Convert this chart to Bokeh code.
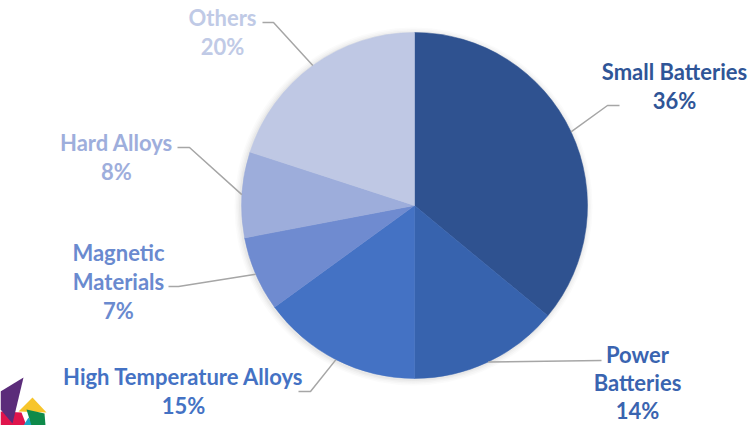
import numpy as np
from bokeh.plotting import figure
from bokeh.models import Range1d, ColumnDataSource
from bokeh.embed import file_html
from bokeh.resources import INLINE
from bokeh.core.properties import value

# ---------------- data ----------------
categories = ["Small Batteries", "Power Batteries", "High Temperature Alloys",
              "Magnetic Materials", "Hard Alloys", "Others"]
shares = [36, 14, 15, 7, 8, 20]
label_names = [["Small Batteries"], ["Power", "Batteries"], ["High Temperature Alloys"],
               ["Magnetic", "Materials"], ["Hard Alloys"], ["Others"]]

# ---------------- style / layout ----------------
slice_colors = ["#2F5290", "#3763AE", "#4472C4", "#6F8BD0", "#9DADDB", "#BFC8E4"]
text_colors = ["#2F5597", "#3A64B0", "#4472C4", "#6A8ACF", "#9EAEDC", "#C0CAE6"]
W, H = 756, 425

def X(px):
    return px

def Y(py):
    return H - py

CX, CY, R = 414, 205, 173
# label centre x, first-line y, line spacing (picture px)
label_pos = [(674, 71, 29), (637, 354, 28), (183, 376, 29),
             (118, 252, 29), (116, 142, 29), (222, 17, 29)]
# leader line elbow and end (picture px)
leader_elbow = [(607, 105), (601, 360), (310, 391), (178, 286), (189, 147), (273, 22)]
leader_end = [(619, 105), (601, 360), (298, 391), (168, 286), (177, 147), (262, 22)]

p = figure(width=W, height=H, output_backend="svg", toolbar_location=None,
           x_range=Range1d(0, W), y_range=Range1d(0, H), min_border=0)
p.axis.visible = False
p.grid.visible = False
p.outline_line_color = None
p.background_fill_color = "white"
p.border_fill_color = "white"

# soft shadow
for k, a in zip([6, 4.5, 3, 1.5], [0.03, 0.04, 0.05, 0.07]):
    p.circle(x=[X(CX) - 1], y=[Y(CY) - 1], radius=R + k, fill_color="#808080",
             fill_alpha=a, line_color=None)

total = float(sum(shares))
cum = np.cumsum([0] + shares)
a_begin = [np.pi / 2 - 2 * np.pi * cum[i] / total for i in range(len(shares))]
a_end = [np.pi / 2 - 2 * np.pi * cum[i + 1] / total for i in range(len(shares))]

src = ColumnDataSource(dict(
    x=[X(CX)] * len(shares), y=[Y(CY)] * len(shares),
    start=a_end, end=a_begin, color=slice_colors, name=categories))
p.wedge(x="x", y="y", radius=R, start_angle="start", end_angle="end",
        fill_color="color", line_color="color", line_width=0.5, source=src)

# leader lines
xs, ys = [], []
for i in range(len(shares)):
    mid = (a_begin[i] + a_end[i]) / 2
    sx = X(CX) + R * np.cos(mid)
    sy = Y(CY) + R * np.sin(mid)
    ex, ey = leader_elbow[i]
    tx, ty = leader_end[i]
    xs.append([sx, X(ex), X(tx)])
    ys.append([sy, Y(ey), Y(ty)])
p.multi_line(xs=xs, ys=ys, line_color="#A6A6A6", line_width=1.5)

# labels
tx_, ty_, tc_, tt_ = [], [], [], []
for i in range(len(shares)):
    lines = label_names[i] + [f"{shares[i]}%"]
    cx, y0, dy = label_pos[i]
    for j, t in enumerate(lines):
        tx_.append(X(cx))
        ty_.append(Y(y0 + j * dy))
        tc_.append(text_colors[i])
        tt_.append(t)
p.text(x=tx_, y=ty_, text=tt_, text_color=tc_, text_font=value("Lato"),
       text_font_style="bold", text_font_size="22px",
       text_align="center", text_baseline="middle")

# decorative logo in the lower-left corner
logo_shapes = [
    ([0, 0, 26, 21], [411, 425, 425, 412], "#E0144C"),
    ([23, 0, 0, 12], [377, 391, 409, 423], "#5B2C7A"),
    ([18, 32, 46], [411, 397, 412], "#F7C52B"),
    ([23, 28, 33], [425, 417, 425], "#1BA3C6"),
    ([26, 44, 45, 31], [409, 413, 425, 425], "#0E8A4A"),
]
for xs_l, ys_l, col in logo_shapes:
    p.patch(x=[X(v) for v in xs_l], y=[Y(v) for v in ys_l], fill_color=col,
            line_color=None)

open("out.html", "w").write(file_html(p, INLINE))
